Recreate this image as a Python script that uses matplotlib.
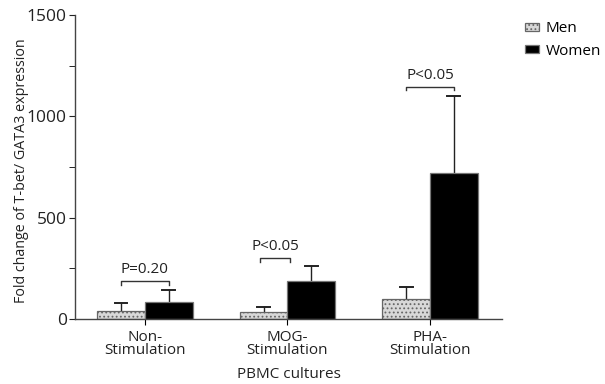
import numpy as np
import matplotlib
matplotlib.use("Agg")
import matplotlib.pyplot as plt

plt.rcParams['font.family'] = ['Open Sans', 'DejaVu Sans']
plt.rcParams['hatch.color'] = '#555555'
plt.rcParams['hatch.linewidth'] = 0.8

groups = ['Non-\nStimulation', 'MOG-\nStimulation', 'PHA-\nStimulation']
men = [41, 35, 97]
men_err = [38, 23, 59]
women = [85, 189, 720]
women_err = [58, 74, 380]

# bracket: (left x, right x, y, label)
brackets = [(-0.17, 0.17, 187, 'P=0.20'),
            (0.81, 1.02, 300, 'P<0.05'),
            (1.83, 2.17, 1146, 'P<0.05')]

fig = plt.figure(figsize=(6.05, 3.84), dpi=100)
ax = fig.add_axes([75/605, 1-319/384, 427/605, 304/384])

x = np.arange(len(groups))
w = 0.335
ax.bar(x - w/2, men, w, facecolor='#d8d8d8', edgecolor='#666666', hatch='....',
       linewidth=0.9, label='Men', zorder=2)
ax.bar(x + w/2, women, w, facecolor='black', edgecolor='#777777',
       linewidth=0.9, label='Women', zorder=2)

# upper-only error bars
cap = 0.045
for xs, vals, errs in [(x - w/2, men, men_err), (x + w/2, women, women_err)]:
    for xi, v, e in zip(xs, vals, errs):
        ax.plot([xi, xi], [v, v + e], color='#222222', lw=1, zorder=1)
        ax.plot([xi - cap, xi + cap], [v + e, v + e], color='#222222', lw=1.4, zorder=1)

for x0, x1, y, lab in brackets:
    ax.plot([x0, x0, x1, x1], [y - 18, y, y, y - 18], color='#333333', lw=1)
    ax.text((x0 + x1) / 2, y + 20, lab, ha='center', va='bottom', fontsize=11, color='#222222')

ax.set_xlim(-0.49, 2.505)
ax.set_ylim(0, 1500)
ax.set_yticks([0, 500, 1000, 1500])
ax.set_yticks([250, 750, 1250], minor=True)
ax.set_xticks(x)
ax.set_xticklabels(groups, fontsize=11, linespacing=0.85, color='#222222')
ax.tick_params(axis='y', labelsize=12.5, colors='#222222', length=4, pad=2)
ax.tick_params(axis='y', which='minor', length=4)
ax.tick_params(axis='x', length=4, pad=4)
for s in ['top', 'right']:
    ax.spines[s].set_visible(False)
for s in ['left', 'bottom']:
    ax.spines[s].set_color('#444444')
    ax.spines[s].set_linewidth(1)

ax.set_xlabel('PBMC cultures', fontsize=11, color='#222222', labelpad=6)
ax.set_ylabel('Fold change of T-bet/ GATA3 expression', fontsize=10.3, color='#222222')
ax.yaxis.set_label_coords(-0.108, 0.487)

leg = fig.legend(loc='upper left', bbox_to_anchor=(519/605, 1-15/384), frameon=False,
                 fontsize=11, handlelength=0.9, handleheight=0.45, labelspacing=0.5,
                 handletextpad=0.45, borderaxespad=0)

fig.savefig('out.png', dpi=100)
